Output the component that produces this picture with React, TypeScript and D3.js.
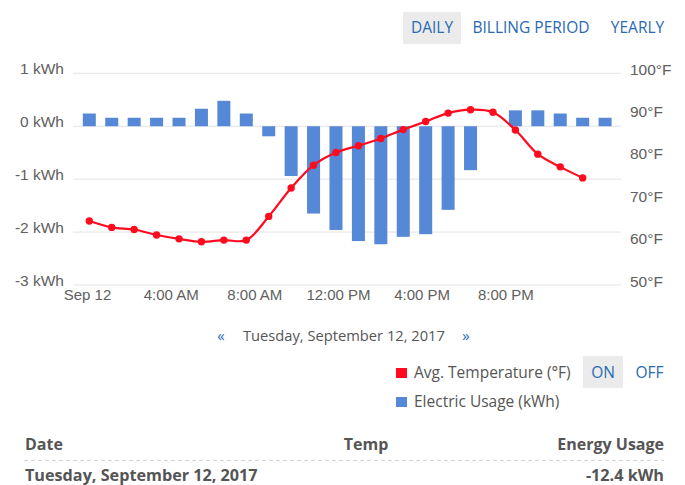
import { useEffect, useRef } from "react";
import * as d3 from "d3";

// hourly readings for Sep 12, 2017
const hours = [0, 1, 2, 3, 4, 5, 6, 7, 8, 9, 10, 11, 12, 13, 14, 15, 16, 17, 18, 19, 20, 21, 22, 23];
const usageKwh = [
  0.24, 0.16, 0.16, 0.16, 0.16, 0.33, 0.48, 0.24, -0.19, -0.94, -1.65, -1.96,
  -2.17, -2.23, -2.09, -2.04, -1.58, -0.83, 0, 0.3, 0.3, 0.24, 0.16, 0.16,
];
const tempF = [
  65.1, 63.6, 63.1, 61.8, 60.9, 60.2, 60.6, 60.6, 66.2, 72.9, 78.3, 81.3,
  82.9, 84.6, 86.7, 88.6, 90.6, 91.4, 90.8, 86.6, 80.9, 77.9, 75.3,
];

const kwhTicks = [1, 0, -1, -2, -3];
const kwhLabels = ["1 kWh", "0 kWh", "-1 kWh", "-2 kWh", "-3 kWh"];
const tempTicks = [100, 90, 80, 70, 60, 50];
const tempLabels = ["100°F", "90°F", "80°F", "70°F", "60°F", "50°F"];
const timeTicks = [0, 4, 8, 12, 16, 20];
const timeLabels = ["Sep 12", "4:00 AM", "8:00 AM", "12:00 PM", "4:00 PM", "8:00 PM"];

const periods = ["DAILY", "BILLING PERIOD", "YEARLY"];
const dayLabel = "Tuesday, September 12, 2017";
const totalUsage = "-12.4 kWh";

const BLUE_BAR = "#5588d6";
const RED = "#ff0a1e";
const LINK = "#2a6ab3";
const TEXT = "#555";
const AXIS_FONT = "'Liberation Sans', Arial, sans-serif";
const UI_FONT = "'Open Sans', 'Noto Sans', sans-serif";

export default function App() {
  const ref = useRef<SVGSVGElement>(null);

  useEffect(() => {
    if (!ref.current) return;
    const svg = d3.select(ref.current);
    svg.selectAll("*").remove();

    const plotLeft = 73;
    const plotRight = 621;

    const yKwh = d3.scaleLinear().domain([-3, 1]).range([285, 73.3]);
    const yTemp = d3.scaleLinear().domain([50, 100]).range([285, 73.3]);
    const xBand = d3
      .scaleBand<number>()
      .domain(hours)
      .range([78.1, 616.3])
      .paddingInner(0.42)
      .paddingOuter(0.21);
    const day = new Date(2017, 8, 12);
    const xTime = d3
      .scaleTime()
      .domain([day, d3.timeHour.offset(day, 24)])
      .range([87.5, 589.5]);
    const cx = (i: number) => xBand(hours[i])! + xBand.bandwidth() / 2;

    // top period buttons
    svg
      .append("rect")
      .attr("x", 403)
      .attr("y", 12)
      .attr("width", 58)
      .attr("height", 32)
      .attr("fill", "#ebebeb");
    const periodX = [432, 531, 637.5];
    svg
      .selectAll(".period")
      .data(periods)
      .enter()
      .append("text")
      .attr("x", (_, i) => periodX[i])
      .attr("y", 33)
      .attr("text-anchor", "middle")
      .style("font-family", UI_FONT)
      .style("font-size", "15.5px")
      .attr("fill", LINK)
      .text((d) => d);

    // gridlines
    svg
      .selectAll(".grid")
      .data(kwhTicks)
      .enter()
      .append("line")
      .attr("x1", plotLeft)
      .attr("x2", plotRight)
      .attr("y1", (d) => yKwh(d))
      .attr("y2", (d) => yKwh(d))
      .attr("stroke", "#e3e3e3")
      .attr("stroke-width", 1);

    // left axis labels
    svg
      .selectAll(".ylab")
      .data(kwhTicks)
      .enter()
      .append("text")
      .attr("x", 64)
      .attr("y", (d) => yKwh(d) + 1)
      .attr("text-anchor", "end")
      .style("font-family", AXIS_FONT)
      .style("font-size", "15.5px")
      .attr("fill", "#606060")
      .text((_, i) => kwhLabels[i]);

    // right axis labels
    svg
      .selectAll(".tlab")
      .data(tempTicks)
      .enter()
      .append("text")
      .attr("x", 630)
      .attr("y", (d) => yTemp(d) + 1.5)
      .style("font-family", AXIS_FONT)
      .style("font-size", "15.5px")
      .attr("fill", "#606060")
      .text((_, i) => tempLabels[i]);

    // x labels
    svg
      .selectAll(".xlab")
      .data(timeTicks)
      .enter()
      .append("text")
      .attr("x", (d) => xTime(d3.timeHour.offset(day, d)))
      .attr("y", 300)
      .attr("text-anchor", "middle")
      .style("font-family", AXIS_FONT)
      .style("font-size", "15px")
      .attr("fill", "#606060")
      .text((_, i) => timeLabels[i]);

    // usage bars
    svg
      .selectAll(".bar")
      .data(usageKwh)
      .enter()
      .append("rect")
      .attr("x", (_, i) => xBand(hours[i])!)
      .attr("y", (d) => yKwh(Math.max(0, d)))
      .attr("width", xBand.bandwidth())
      .attr("height", (d) => Math.abs(yKwh(d) - yKwh(0)))
      .attr("fill", BLUE_BAR);

    // temperature line
    const line = d3
      .line<number>()
      .x((_, i) => cx(i))
      .y((d) => yTemp(d))
      .curve(d3.curveCatmullRom.alpha(0.5));
    svg
      .append("path")
      .datum(tempF)
      .attr("d", line)
      .attr("fill", "none")
      .attr("stroke", RED)
      .attr("stroke-width", 2.2);
    svg
      .selectAll(".pt")
      .data(tempF)
      .enter()
      .append("circle")
      .attr("cx", (_, i) => cx(i))
      .attr("cy", (d) => yTemp(d))
      .attr("r", 3.7)
      .attr("fill", RED);

    // date navigation
    svg
      .append("text")
      .attr("x", 221)
      .attr("y", 341)
      .attr("text-anchor", "middle")
      .style("font-family", UI_FONT)
      .style("font-size", "15px")
      .attr("fill", LINK)
      .text("«");
    svg
      .append("text")
      .attr("x", 243)
      .attr("y", 341)
      .style("font-family", UI_FONT)
      .style("font-size", "14.7px")
      .attr("fill", TEXT)
      .text(dayLabel);
    svg
      .append("text")
      .attr("x", 466)
      .attr("y", 341)
      .attr("text-anchor", "middle")
      .style("font-family", UI_FONT)
      .style("font-size", "15px")
      .attr("fill", LINK)
      .text("»");

    // legend
    const legend = [
      { label: "Avg. Temperature (°F)", color: RED, y: 368 },
      { label: "Electric Usage (kWh)", color: BLUE_BAR, y: 397 },
    ];
    svg
      .selectAll(".lsw")
      .data(legend)
      .enter()
      .append("rect")
      .attr("x", 396)
      .attr("y", (d) => d.y)
      .attr("width", 11)
      .attr("height", 10)
      .attr("fill", (d) => d.color);
    svg
      .selectAll(".ltx")
      .data(legend)
      .enter()
      .append("text")
      .attr("x", 414)
      .attr("y", (d) => d.y + 10)
      .style("font-family", UI_FONT)
      .style("font-size", "15.5px")
      .attr("fill", TEXT)
      .text((d) => d.label);
    svg
      .append("rect")
      .attr("x", 583)
      .attr("y", 356)
      .attr("width", 40)
      .attr("height", 32)
      .attr("fill", "#ebebeb");
    svg
      .selectAll(".onoff")
      .data(["ON", "OFF"])
      .enter()
      .append("text")
      .attr("x", (_, i) => (i === 0 ? 603 : 649.5))
      .attr("y", 378)
      .attr("text-anchor", "middle")
      .style("font-family", UI_FONT)
      .style("font-size", "15.5px")
      .attr("fill", LINK)
      .text((d) => d);

    // summary table
    const header = [
      { t: "Date", x: 25, a: "start" },
      { t: "Temp", x: 366, a: "middle" },
      { t: "Energy Usage", x: 664, a: "end" },
    ];
    svg
      .selectAll(".th")
      .data(header)
      .enter()
      .append("text")
      .attr("x", (d) => d.x)
      .attr("y", 449.5)
      .attr("text-anchor", (d) => d.a)
      .style("font-family", UI_FONT)
      .style("font-size", "16px")
      .style("font-weight", "700")
      .attr("fill", TEXT)
      .text((d) => d.t);
    svg
      .append("line")
      .attr("x1", 24)
      .attr("x2", 664)
      .attr("y1", 460.5)
      .attr("y2", 460.5)
      .attr("stroke", "#d6d6d6")
      .attr("stroke-dasharray", "4,3");
    svg
      .append("text")
      .attr("x", 25)
      .attr("y", 481)
      .style("font-family", UI_FONT)
      .style("font-size", "16.2px")
      .style("font-weight", "700")
      .attr("fill", TEXT)
      .text(dayLabel);
    svg
      .append("text")
      .attr("x", 664)
      .attr("y", 481)
      .attr("text-anchor", "end")
      .style("font-family", UI_FONT)
      .style("font-size", "16.2px")
      .style("font-weight", "700")
      .attr("fill", TEXT)
      .text(totalUsage);
  }, []);

  return (
    <div style={{ position: "fixed", top: 0, left: 0 }}>
      <svg ref={ref} width={685} height={485} style={{ display: "block", background: "#fff" }}></svg>
    </div>
  );
}
